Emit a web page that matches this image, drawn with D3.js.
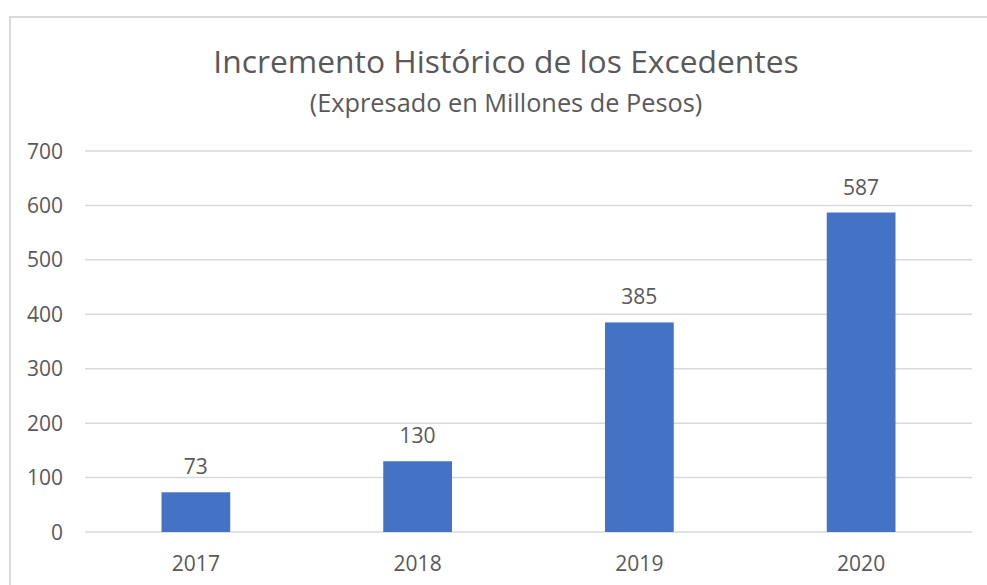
<!DOCTYPE html>
<html lang="es">
<head>
<meta charset="utf-8">
<script src="https://d3js.org/d3.v7.min.js"></script>
<style>
  body { margin: 0; background: #fff; }
  text { font-family: "Open Sans", "Noto Sans", sans-serif; fill: #595959; }
</style>
</head>
<body>
<script>
var years = ["2017", "2018", "2019", "2020"];
var excedentes = [73, 130, 385, 587];
var yTicks = [0, 100, 200, 300, 400, 500, 600, 700];

var width = 987, height = 585;
var margin = { top: 151, right: 15, bottom: 53, left: 85 };

var svg = d3.select("body").append("svg")
    .attr("width", width)
    .attr("height", height);

// chart frame
svg.append("rect")
    .attr("x", 10).attr("y", 17)
    .attr("width", 1000).attr("height", 600)
    .attr("fill", "none")
    .attr("stroke", "#d9d9d9")
    .attr("stroke-width", 2);

svg.append("text")
    .attr("x", 506).attr("y", 73)
    .attr("text-anchor", "middle")
    .style("font-size", "31.8px")
    .text("Incremento Histórico de los Excedentes");

svg.append("text")
    .attr("x", 506).attr("y", 112)
    .attr("text-anchor", "middle")
    .style("font-size", "25.3px")
    .text("(Expresado en Millones de Pesos)");

var x = d3.scaleBand()
    .domain(years)
    .range([margin.left, width - margin.right])
    .paddingInner(0.69)
    .paddingOuter(0.345);

var y = d3.scaleLinear()
    .domain([0, 700])
    .range([height - margin.bottom, margin.top]);

// grid lines
svg.append("g")
    .selectAll("line")
    .data(yTicks)
    .join("line")
    .attr("x1", margin.left)
    .attr("x2", width - margin.right)
    .attr("y1", function(d) { return y(d); })
    .attr("y2", function(d) { return y(d); })
    .attr("stroke", "#d9d9d9")
    .attr("stroke-width", 1.5);

// y labels
svg.append("g")
    .selectAll("text")
    .data(yTicks)
    .join("text")
    .attr("x", 63)
    .attr("y", function(d) { return y(d); })
    .attr("dy", "0.36em")
    .attr("text-anchor", "end")
    .style("font-size", "21px")
    .text(function(d) { return d; });

// bars
svg.append("g")
    .selectAll("rect")
    .data(excedentes)
    .join("rect")
    .attr("x", function(d, i) { return x(years[i]); })
    .attr("y", function(d) { return y(d); })
    .attr("width", x.bandwidth())
    .attr("height", function(d) { return y(0) - y(d); })
    .attr("fill", "#4472c4");

// value labels
svg.append("g")
    .selectAll("text")
    .data(excedentes)
    .join("text")
    .attr("x", function(d, i) { return x(years[i]) + x.bandwidth() / 2; })
    .attr("y", function(d) { return y(d) - 18; })
    .attr("text-anchor", "middle")
    .style("font-size", "21px")
    .text(function(d) { return d; });

// x labels
svg.append("g")
    .selectAll("text")
    .data(years)
    .join("text")
    .attr("x", function(d) { return x(d) + x.bandwidth() / 2; })
    .attr("y", 571)
    .attr("text-anchor", "middle")
    .style("font-size", "21px")
    .text(function(d) { return d; });
</script>
</body>
</html>
